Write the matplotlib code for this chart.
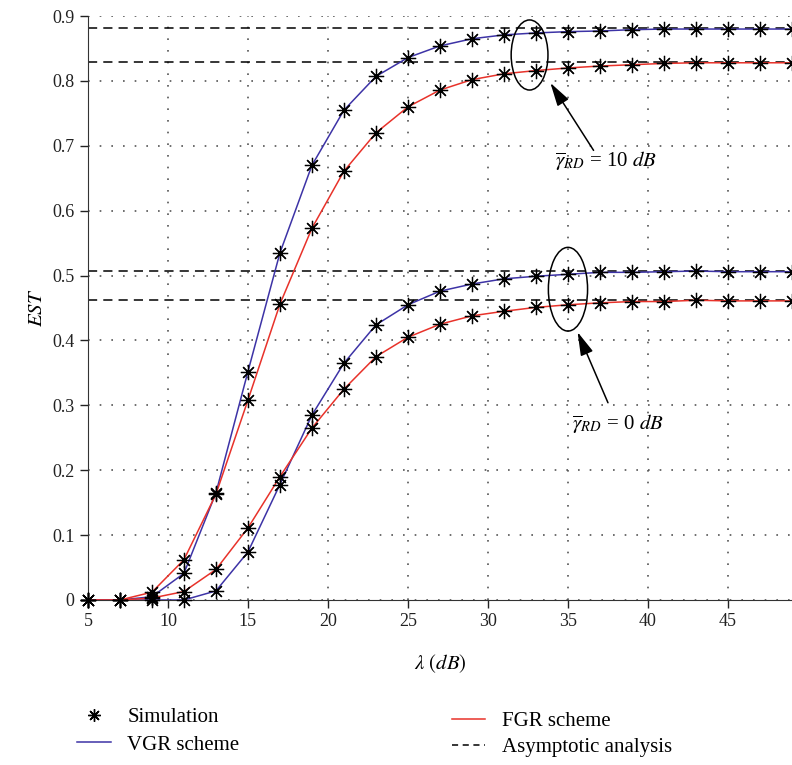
import numpy as np
import matplotlib.pyplot as plt
from matplotlib.patches import Ellipse

plt.rcParams['font.family'] = ['Liberation Serif', 'DejaVu Serif']
plt.rcParams['mathtext.fontset'] = 'stix'

# data
snr = [5, 7, 9, 11, 13, 15, 17, 19, 21, 23, 25, 27, 29, 31, 33, 35, 37, 39, 41, 43, 45, 47, 49]
vgr_10 = [0, 0, 0.005, 0.041, 0.165, 0.352, 0.535, 0.670, 0.755, 0.807, 0.836, 0.854, 0.865,
          0.871, 0.874, 0.876, 0.877, 0.879, 0.880, 0.880, 0.880, 0.880, 0.880]
fgr_10 = [0, 0, 0.012, 0.062, 0.163, 0.308, 0.456, 0.573, 0.661, 0.720, 0.760, 0.786, 0.802,
          0.811, 0.816, 0.820, 0.823, 0.825, 0.827, 0.828, 0.828, 0.828, 0.828]
vgr_0 = [0, 0, 0, 0, 0.014, 0.074, 0.178, 0.285, 0.365, 0.424, 0.455, 0.476, 0.487,
         0.495, 0.499, 0.502, 0.505, 0.505, 0.506, 0.507, 0.506, 0.506, 0.506]
fgr_0 = [0, 0, 0.003, 0.013, 0.047, 0.111, 0.190, 0.265, 0.325, 0.375, 0.405, 0.425, 0.438,
         0.445, 0.451, 0.455, 0.458, 0.460, 0.460, 0.462, 0.461, 0.461, 0.461]
asym = [0.881, 0.829, 0.507, 0.462]

blue = '#3d33a6'
red = '#e8322a'

fig = plt.figure(figsize=(7.92, 7.65), dpi=100)
ax = fig.add_axes([0.111, 0.2157, 0.889, 0.7633])

for a in asym:
    ax.axhline(a, color='k', ls=(0, (6, 4)), lw=1.1, zorder=2)

for y, c in [(vgr_10, blue), (fgr_10, red), (vgr_0, blue), (fgr_0, red)]:
    ax.plot(snr, y, color=c, lw=1.1, zorder=3)
    ax.plot(snr, y, ls='none', marker=(8, 2, 0), ms=11, mec='k', mew=0.9,
            color='k', zorder=4, clip_on=False)

ax.set_xlim(5, 49)
ax.set_ylim(0, 0.9)
ax.set_xticks(np.arange(5, 50, 5))
ax.set_yticks(np.arange(0, 0.91, 0.1))
ax.set_yticklabels(['0'] + ['%.1f' % v for v in np.arange(0.1, 0.91, 0.1)])
ax.grid(True, color='#555555', ls=(0, (1, 6)), lw=1.2)
ax.tick_params(labelsize=13, length=6, width=1.0, colors='#222222')
for s in ['top', 'right']:
    ax.spines[s].set_visible(False)
for s in ['left', 'bottom']:
    ax.spines[s].set_color('#333333')
ax.set_xlabel(r'$\lambda\ (dB)$', fontsize=15, labelpad=16)
ax.set_ylabel(r'$EST$', fontsize=15, labelpad=4)

# annotations
ax.add_patch(Ellipse((32.6, 0.84), 2.3, 0.108, fill=False, ec='k', lw=1.1, zorder=5))
ax.add_patch(Ellipse((35.0, 0.479), 2.45, 0.129, fill=False, ec='k', lw=1.1, zorder=5))
arrow = dict(arrowstyle='-|>,head_length=0.9,head_width=0.25', color='k', lw=1.1,
             mutation_scale=16, shrinkA=0, shrinkB=0)
ax.annotate('', xy=(33.9, 0.797), xytext=(36.6, 0.693), arrowprops=arrow)
ax.annotate('', xy=(35.6, 0.413), xytext=(37.5, 0.304), arrowprops=arrow)
ax.text(37.4, 0.676, r'$\overline{\gamma}_{RD}$ = 10 $dB$', fontsize=15,
        ha='center', va='center')
ax.text(38.1, 0.271, r'$\overline{\gamma}_{RD}$ = 0 $dB$', fontsize=15,
        ha='center', va='center')

# legend
h_sim, = ax.plot([], [], ls='none', marker=(8, 2, 0), ms=9, mec='k', color='k')
h_vgr, = ax.plot([], [], color=blue, lw=1.1)
h_fgr, = ax.plot([], [], color=red, lw=1.1)
h_asy, = ax.plot([], [], color='k', ls=(0, (4, 3)), lw=1.1)
fig.legend([h_sim, h_vgr], ['Simulation', 'VGR scheme'],
           loc='upper left', bbox_to_anchor=(0.074, 0.1), frameon=False,
           fontsize=15, handlelength=1.6, handletextpad=0.8, labelspacing=0.4)
fig.legend([h_fgr, h_asy], ['FGR scheme', 'Asymptotic analysis'],
           loc='upper left', bbox_to_anchor=(0.547, 0.094), frameon=False,
           fontsize=15, handlelength=1.6, handletextpad=0.8, labelspacing=0.3)

fig.savefig('out.png', dpi=100)
